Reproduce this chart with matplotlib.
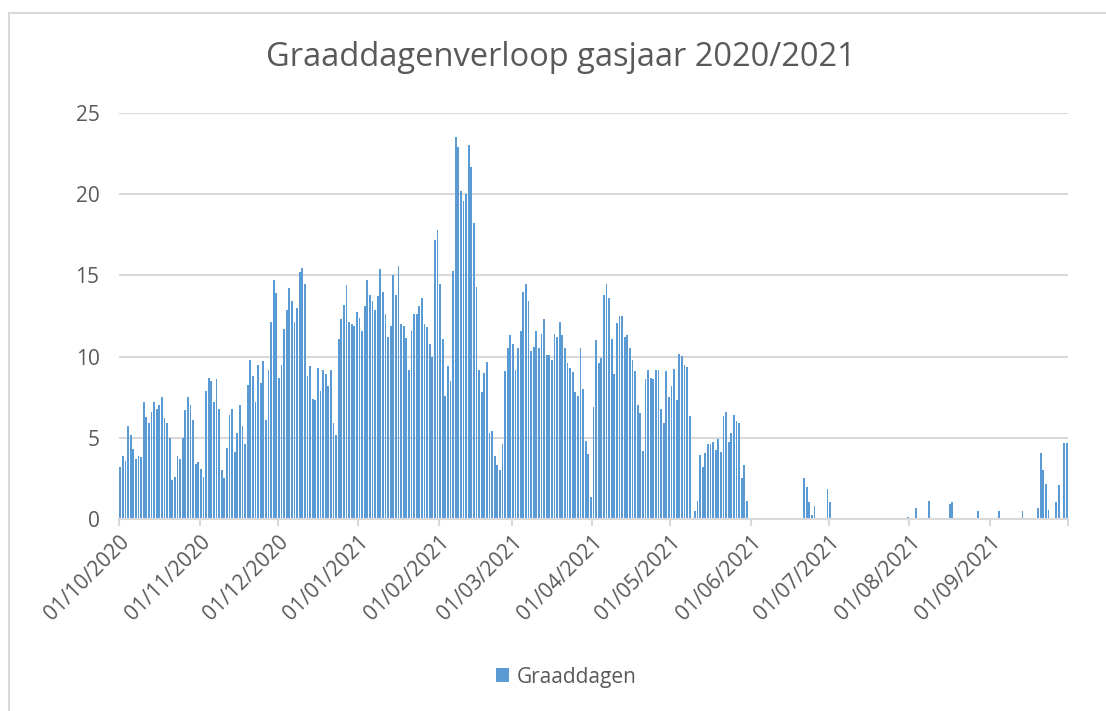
import numpy as np
import matplotlib
matplotlib.use("Agg")
import matplotlib.pyplot as plt
from matplotlib.patches import Patch
from matplotlib.lines import Line2D

# Daily degree days, gas year 01/10/2020 - 30/09/2021
okt = [3.2, 3.9, 3.6, 5.7, 5.2, 4.3, 3.7, 3.9, 3.8, 7.2, 6.3, 5.9, 6.6, 7.2, 6.8, 7.0,
       7.5, 6.2, 5.9, 5.0, 2.4, 2.6, 3.9, 3.7, 5.0, 6.7, 7.5, 7.0, 6.1, 3.4, 3.5]
nov = [3.1, 2.6, 7.9, 8.7, 8.5, 7.2, 8.6, 6.75, 3.0, 2.5, 4.4, 6.4, 6.75, 4.1, 5.3,
       7.0, 5.7, 4.6, 8.25, 9.8, 8.8, 7.2, 9.5, 8.35, 9.7, 6.1, 9.2, 12.1, 14.7, 13.9]
dec = [8.7, 9.5, 11.7, 12.9, 14.2, 13.4, 12.1, 13.0, 15.2, 15.45, 14.5, 8.8, 9.4, 7.4,
       7.3, 9.3, 7.9, 9.2, 8.9, 8.2, 9.2, 5.9, 5.2, 11.1, 12.3, 13.2, 14.4, 12.1, 12.0,
       11.9, 12.75]
jan = [12.4, 11.6, 13.1, 14.7, 13.8, 13.4, 12.9, 13.75, 15.4, 14.0, 12.6, 11.2, 11.9,
       15.05, 13.8, 15.6, 12.0, 11.9, 11.15, 9.2, 11.6, 12.6, 12.65, 13.1, 13.6, 12.0,
       11.8, 10.8, 10.0, 17.2, 17.8]
feb = [14.5, 11.1, 7.6, 9.4, 8.5, 15.3, 23.5, 22.9, 20.2, 19.6, 20.0, 23.0, 21.7, 18.2,
       14.3, 9.2, 7.8, 9.0, 9.65, 5.3, 5.4, 3.9, 3.3, 3.0, 4.6, 9.1, 10.5, 11.3]
mrt = [10.8, 9.2, 10.5, 11.6, 14.0, 14.5, 13.4, 10.35, 10.6, 11.6, 10.5, 11.4, 12.3,
       10.1, 10.1, 9.8, 11.4, 11.2, 12.1, 11.3, 10.55, 9.6, 9.3, 9.05, 7.8, 7.6, 10.5,
       8.0, 4.8, 4.0, 1.35]
apr = [6.9, 11.05, 9.6, 9.9, 13.8, 14.45, 13.6, 11.1, 8.9, 12.05, 12.5, 12.5, 11.2, 11.3,
       10.5, 9.8, 9.1, 7.05, 6.5, 4.2, 8.6, 9.2, 8.7, 8.6, 9.2, 9.2, 6.8, 5.9, 9.1, 7.5]
mei = [8.2, 9.25, 7.3, 10.15, 10.05, 9.5, 9.35, 6.35, 0.0, 0.5, 1.1, 3.95, 3.2, 4.05,
       4.6, 4.6, 4.75, 4.25, 4.95, 4.1, 6.35, 6.6, 4.75, 5.3, 6.4, 6.05, 5.9, 2.55, 3.3,
       1.1, 0.0]
jun = [0, 0, 0, 0, 0, 0, 0, 0, 0, 0, 0, 0, 0, 0, 0, 0, 0, 0, 0, 0,
       2.5, 2.0, 1.05, 0.25, 0.8, 0, 0, 0, 0, 1.85]
jul = [1.05, 0, 0, 0, 0, 0, 0, 0, 0, 0, 0, 0, 0, 0, 0, 0, 0, 0, 0, 0,
       0, 0, 0, 0, 0, 0, 0, 0, 0, 0, 0.15]
aug = [0, 0, 0.65, 0, 0, 0, 0, 1.1, 0, 0, 0, 0, 0, 0, 0, 0.95, 1.05, 0, 0, 0,
       0, 0, 0, 0, 0, 0, 0.5, 0, 0, 0, 0]
sep = [0, 0, 0, 0.5, 0, 0, 0, 0, 0, 0, 0, 0, 0.5, 0, 0, 0, 0, 0, 0.65, 4.05,
       3.0, 2.15, 0.55, 0, 0, 1.05, 2.1, 0, 4.65, 4.65]

months = [okt, nov, dec, jan, feb, mrt, apr, mei, jun, jul, aug, sep]
tick_labels = ["01/10/2020", "01/11/2020", "01/12/2020", "01/01/2021", "01/02/2021",
               "01/03/2021", "01/04/2021", "01/05/2021", "01/06/2021", "01/07/2021",
               "01/08/2021", "01/09/2021"]

values = np.concatenate([np.array(m, dtype=float) for m in months])
ndays = len(values)
month_starts = np.cumsum([0] + [len(m) for m in months])  # includes end

txt = "#595959"
grid = "#d9d9d9"
blue = "#5b9bd5"
plt.rcParams['font.family'] = ['Open Sans', 'DejaVu Sans']

fig = plt.figure(figsize=(11.06, 7.11), dpi=100)
ax = fig.add_axes([119/1106, 1 - 519/711, (1068-119)/1106, (519-113)/711])

ax.bar(np.arange(ndays) + 0.5, values, width=0.62, color=blue, linewidth=0)

ax.set_xlim(0, ndays)
ax.set_ylim(0, 25)
ax.set_yticks(np.arange(0, 26, 5))
ax.yaxis.grid(True, color=grid, linewidth=1.5)
ax.set_axisbelow(True)

ax.set_xticks(month_starts)
ax.set_xticklabels(tick_labels + [""], rotation=45, ha="right", rotation_mode="anchor")

for s in ["top", "right", "left"]:
    ax.spines[s].set_visible(False)
ax.spines["bottom"].set_color(grid)
ax.spines["bottom"].set_linewidth(1.5)
ax.tick_params(axis="x", colors=grid, length=5, width=1.5, labelcolor=txt,
               labelsize=15, pad=4)
ax.tick_params(axis="y", length=0, labelcolor=txt, labelsize=15, pad=14)

fig.text(561/1106, 1 - 58/711, "Graaddagenverloop gasjaar 2020/2021",
         ha="center", va="center", fontsize=23.5, color=txt)

leg = fig.legend(handles=[Patch(facecolor=blue, edgecolor="none", label="Graaddagen")],
                 loc="center", bbox_to_anchor=(566/1106, 1 - 677/711), frameon=False,
                 handlelength=0.65, handleheight=0.65, handletextpad=0.35, fontsize=15)
for t in leg.get_texts():
    t.set_color(txt)

# chart area border (left and top edges visible)
fig.add_artist(Line2D([9/1106, 9/1106], [0, 1 - 13/711], color=grid, lw=1.5,
                      transform=fig.transFigure))
fig.add_artist(Line2D([9/1106, 1], [1 - 13/711, 1 - 13/711], color=grid, lw=1.5,
                      transform=fig.transFigure))

fig.savefig("out.png", dpi=100)
